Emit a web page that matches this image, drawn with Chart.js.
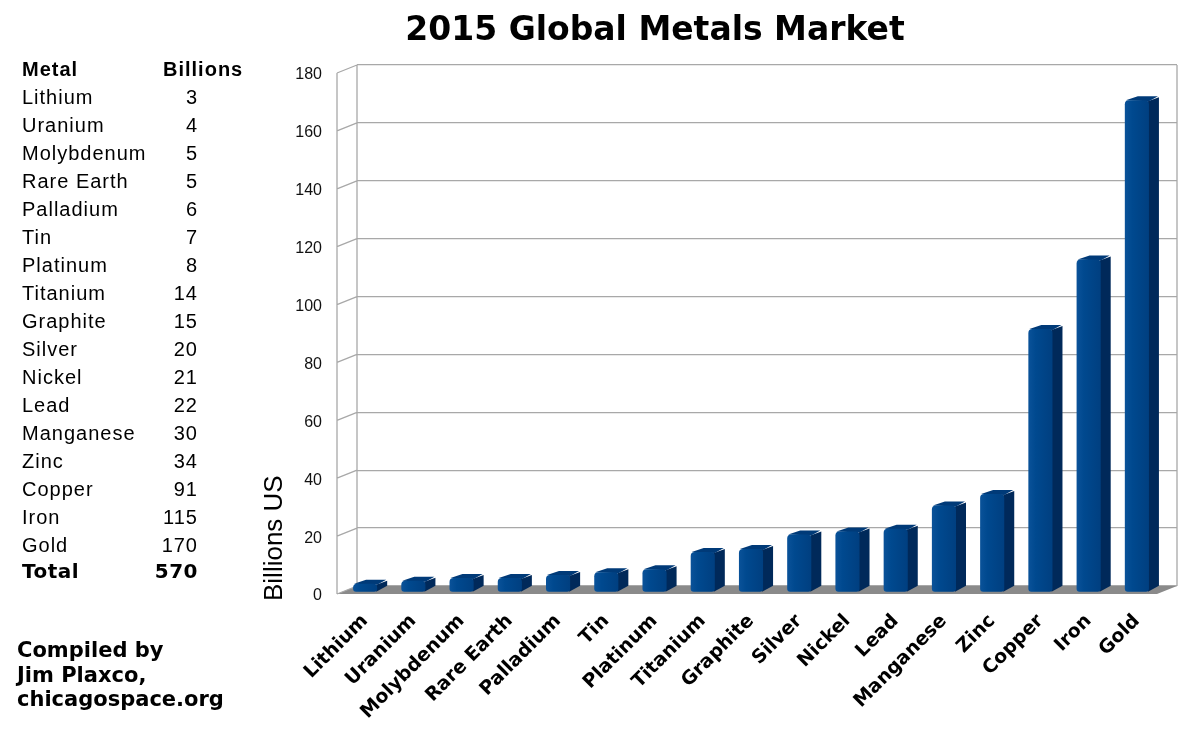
<!DOCTYPE html>
<html>
<head>
<meta charset="utf-8">
<script src="https://cdn.jsdelivr.net/npm/chart.js@4"></script>
<style>
  html, body { margin: 0; padding: 0; background: #fff; }
  #wrap { position: relative; width: 1201px; height: 738px; overflow: hidden; }
  #chart { position: absolute; left: 0; top: 0; }
  .title {
    position: absolute; left: 0; top: 12px; width: 1310px; text-align: center;
    font: bold 33px "DejaVu Sans"; line-height: 33px; color: #000;
  }
  .tbl { position: absolute; left: 22px; top: 55px; font: 20px "Liberation Sans"; color: #000; letter-spacing: 1px; }
  .row { position: relative; height: 28px; line-height: 28px; width: 230px; }
  .row .v { position: absolute; right: 54px; top: 0; }
  .row.head { font-weight: bold; }
  .row.head .v { left: 141px; right: auto; }
  .row.total { font: bold 20px "DejaVu Sans"; letter-spacing: .5px; }
  .credit {
    position: absolute; left: 17px; top: 638px;
    font: bold 21px "DejaVu Sans"; line-height: 24.5px; color: #000;
  }
</style>
</head>
<body>
<div id="wrap">
  <canvas id="chart" width="1201" height="738"></canvas>
  <div class="title">2015 Global Metals Market</div>
  <div class="tbl" id="tbl"></div>
  <div class="credit">Compiled by<br>Jim Plaxco,<br>chicagospace.org</div>
</div>
<script>
const metals = ["Lithium", "Uranium", "Molybdenum", "Rare Earth", "Palladium", "Tin", "Platinum",
  "Titanium", "Graphite", "Silver", "Nickel", "Lead", "Manganese", "Zinc", "Copper", "Iron", "Gold"];
const billions = [3, 4, 5, 5, 6, 7, 8, 14, 15, 20, 21, 22, 30, 34, 91, 115, 170];
const total = 570;
const yTicks = [0, 20, 40, 60, 80, 100, 120, 140, 160, 180];
const yTitle = "Billions US";

// table on the left
const tbl = document.getElementById("tbl");
function addRow(cls, name, val) {
  const r = document.createElement("div");
  r.className = "row " + cls;
  r.innerHTML = "<span>" + name + "</span><span class='v'>" + val + "</span>";
  tbl.appendChild(r);
}
addRow("head", "Metal", "Billions");
metals.forEach((m, i) => addRow("", m, billions[i]));
addRow("total", "Total", total);

// 3D look: side wall, floor, box bars
const DX = 20, DY = 8;          // depth of the plot box
const SHIFT = 0.8, BDEPTH = 0.5;

const box3d = {
  id: "box3d",
  beforeDatasetsDraw(chart) {
    const { ctx, chartArea: a } = chart;
    const y = chart.scales.y;
    ctx.save();
    // floor
    ctx.fillStyle = "#8a8a8a";
    ctx.beginPath();
    ctx.moveTo(a.left - DX, a.bottom + DY);
    ctx.lineTo(a.left, a.bottom);
    ctx.lineTo(a.right, a.bottom);
    ctx.lineTo(a.right - DX, a.bottom + DY);
    ctx.closePath();
    ctx.fill();
    // walls
    ctx.strokeStyle = "#a8a8a8";
    ctx.lineWidth = 1.3;
    ctx.beginPath();
    ctx.moveTo(a.left, a.top); ctx.lineTo(a.left, a.bottom);
    ctx.moveTo(a.right, a.top); ctx.lineTo(a.right, a.bottom);
    ctx.moveTo(a.left - DX, y.getPixelForValue(y.max) + DY);
    ctx.lineTo(a.left - DX, a.bottom + DY);
    y.ticks.forEach(t => {
      const py = y.getPixelForValue(t.value);
      ctx.moveTo(a.left - DX, py + DY);
      ctx.lineTo(a.left, py);
    });
    ctx.stroke();

    // bars
    const sx = -DX * SHIFT, sy = DY * SHIFT;
    const dx = DX * BDEPTH, dy = -DY * BDEPTH;
    chart.getDatasetMeta(0).data.forEach(bar => {
      const p = bar.getProps(["x", "y", "base", "width"], true);
      const l = p.x - p.width / 2 + sx, r = p.x + p.width / 2 + sx;
      const t = p.y + sy, b = p.base + sy;
      // side
      ctx.fillStyle = "#00295a";
      ctx.beginPath();
      ctx.moveTo(r - 1, t + 1); ctx.lineTo(r + dx, t + dy + 1);
      ctx.lineTo(r + dx, b + dy - 2); ctx.lineTo(r - 1, b);
      ctx.closePath(); ctx.fill();
      // top
      ctx.fillStyle = "#003a78";
      ctx.beginPath();
      ctx.moveTo(l + 1, t); ctx.lineTo(l + dx + 3, t + dy);
      ctx.lineTo(r + dx - 1, t + dy); ctx.lineTo(r, t + 1);
      ctx.closePath(); ctx.fill();
      // front
      const g = ctx.createLinearGradient(l, 0, r, 0);
      g.addColorStop(0, "#0a5299");
      g.addColorStop(0.3, "#00498f");
      g.addColorStop(1, "#003f80");
      ctx.fillStyle = g;
      ctx.beginPath();
      ctx.roundRect(l, t, r - l, b - t, [4, 4, 3, 3]);
      ctx.fill();
    });
    ctx.restore();
  },
  afterDraw(chart) {
    // axis title, sits low beside the value axis
    const ctx = chart.ctx;
    ctx.save();
    ctx.translate(282, 601);
    ctx.rotate(-Math.PI / 2);
    ctx.font = "26px 'Liberation Sans'";
    ctx.fillStyle = "#000";
    ctx.textAlign = "left";
    ctx.textBaseline = "alphabetic";
    ctx.fillText(yTitle, 0, 0);
    ctx.restore();
  }
};

new Chart(document.getElementById("chart"), {
  type: "bar",
  data: {
    labels: metals,
    datasets: [{
      data: billions,
      backgroundColor: "rgba(0,0,0,0)",
      categoryPercentage: 1,
      barPercentage: 0.5
    }]
  },
  options: {
    responsive: false,
    animation: false,
    layout: { padding: { left: 250, right: 24, top: 65, bottom: 0 } },
    plugins: { legend: { display: false }, tooltip: { enabled: false } },
    scales: {
      x: {
        grid: { display: false },
        border: { display: false },
        ticks: {
          autoSkip: false, minRotation: 45, maxRotation: 45,
          labelOffset: -16, padding: 16,
          color: "#000", font: { family: "DejaVu Sans", size: 19, weight: "bold" }
        },
        afterFit(s) { s.height = 152; s.paddingLeft = 0; s.paddingRight = 0; }
      },
      y: {
        min: 0, max: 180,
        afterBuildTicks(s) { s.ticks = yTicks.map(v => ({ value: v })); },
        grid: { color: "#a8a8a8", lineWidth: 1.3, drawTicks: false },
        border: { display: false },
        ticks: {
          padding: 35, labelOffset: 10,
          color: "#111", font: { family: "Liberation Sans", size: 16 }
        },
        afterFit(s) { s.width = 107; s.paddingTop = 0; s.paddingBottom = 0; }
      }
    }
  },
  plugins: [box3d]
});
</script>
</body>
</html>
